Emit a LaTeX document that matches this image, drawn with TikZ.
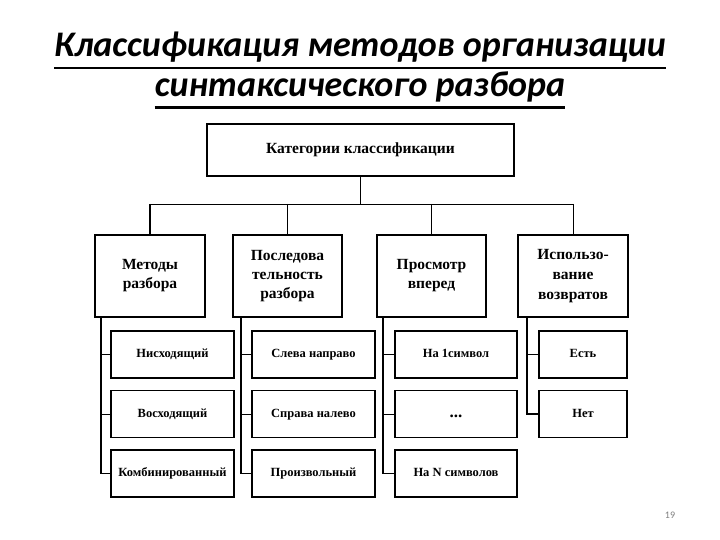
\documentclass[tikz,border=0pt]{standalone}
\usepackage{fontspec}
\setmainfont{Liberation Serif}
\newfontfamily\titlefont{Carlito}
\usetikzlibrary{calc}
\begin{document}
\begin{tikzpicture}[x=1pt,y=-1pt,
  box/.style={draw, line width=1.6pt, fill=white, align=center, inner sep=2pt,
    font=\bfseries\fontsize{15.5}{19}\selectfont, minimum height=82pt},
  sub/.style={draw, line width=1.6pt, fill=white, align=center, inner sep=2pt,
    font=\bfseries\fontsize{12.5}{15}\selectfont, minimum height=47pt,
    text height=9pt, text depth=3pt},
  thinline/.style={line width=0.8pt},
  thickline/.style={line width=1.5pt},
  titletext/.style={font=\titlefont\bfseries\itshape\fontsize{36}{40}\selectfont, anchor=base, inner sep=0pt}]
\useasboundingbox[fill=white] (0,0) rectangle (720,540);

% title
\node[titletext] (t1) at (360,57) {Классификация методов организации};
\node[titletext] (t2) at (360,97) {синтаксического разбора};
\draw[line width=2.8pt] ([yshift=-11pt]t1.base west) -- ([yshift=-11pt]t1.base east);
\draw[line width=2.8pt] ([yshift=-10.5pt]t2.base west) -- ([yshift=-10.5pt]t2.base east);

% top box
\node[box, minimum width=307pt, minimum height=52pt, font=\bfseries\fontsize{15.5}{18}\selectfont] (cat) at (360.5,150) {Категории классификации};

% categories
\node[box, minimum width=110pt] (m1) at (150,276) {Методы\\разбора};
\node[box, minimum width=109pt] (m2) at (287.5,276) {Последова\\тельность\\разбора};
\node[box, minimum width=109pt] (m3) at (431.5,276) {Просмотр\\вперед};
\node[box, minimum width=110pt, font=\bfseries\fontsize{15.5}{20}\selectfont] (m4) at (573,276) {Использо-\\вание\\возвратов};

% sub boxes
\node[sub, minimum width=123pt] (a1) at (172.5,354.5) {Нисходящий};
\node[sub, minimum width=123pt] (a2) at (172.5,414) {Восходящий};
\node[sub, minimum width=123pt] (a3) at (172.5,473.5) {Комбинированный};
\node[sub, minimum width=123pt] (b1) at (313.5,354.5) {Слева направо};
\node[sub, minimum width=123pt] (b2) at (313.5,414) {Справа налево};
\node[sub, minimum width=123pt] (b3) at (313.5,473.5) {Произвольный};
\node[sub, minimum width=122pt] (c1) at (456,354.5) {На 1символ};
\node[sub, minimum width=122pt, font=\bfseries\fontsize{17}{15}\selectfont] (c2) at (456,414) {...};
\node[sub, minimum width=122pt] (c3) at (456,473.5) {На N символов};
\node[sub, minimum width=88pt] (d1) at (583,354.5) {Есть};
\node[sub, minimum width=88pt] (d2) at (583,414) {Нет};

% tree connectors
\coordinate (bus) at (360,204);
\draw[thickline] (cat.south) -- (cat.south |- bus);
\draw[thinline] (m1.north |- bus) -- (m4.north |- bus);
\draw[thickline] (m1.north |- bus) -- (m1.north);
\draw[thinline] (m2.north |- bus) -- (m2.north);
\draw[thickline] (m3.north |- bus) -- (m3.north);
\draw[thinline] (m4.north |- bus) -- (m4.north);

% column connectors
\coordinate (l1) at ([xshift=7pt]m1.south west);
\coordinate (l2) at ([xshift=9pt]m2.south west);
\coordinate (l3) at ([xshift=7pt]m3.south west);
\coordinate (l4) at ([xshift=10pt]m4.south west);
\draw[thickline] (l1) |- (a3.west);
\draw[thinline] (l1 |- a1.west) -- (a1.west);
\draw[thinline] (l1 |- a2.west) -- (a2.west);
\draw[thickline] (l2) |- (b3.west);
\draw[thinline] (l2 |- b1.west) -- (b1.west);
\draw[thinline] (l2 |- b2.west) -- (b2.west);
\draw[thickline] (l3) |- (c3.west);
\draw[thinline] (l3 |- c1.west) -- (c1.west);
\draw[thinline] (l3 |- c2.west) -- (c2.west);
\draw[thickline] (l4) |- (d2.west);
\draw[thinline] (l4 |- d1.west) -- (d1.west);

% page number
\node[font=\titlefont\fontsize{10}{12}\selectfont, text=gray] (pg) at (670,515) {19};
\end{tikzpicture}
\end{document}
